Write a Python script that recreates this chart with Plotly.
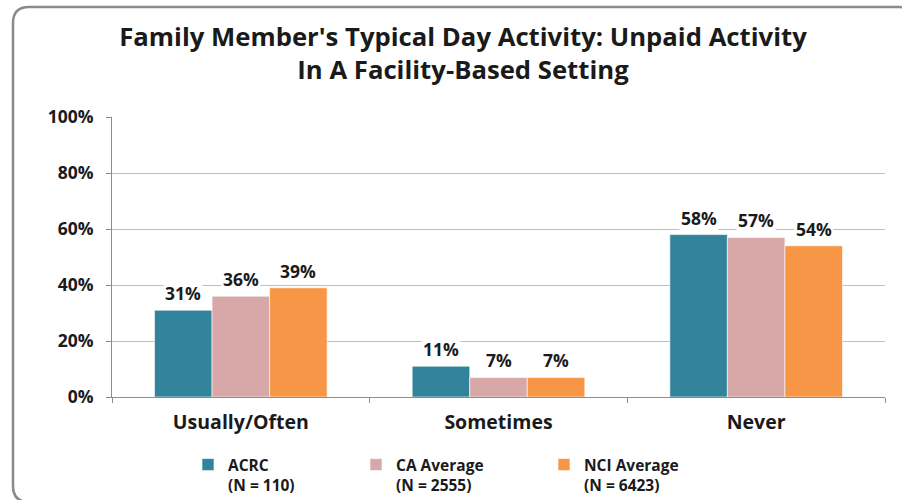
import plotly.graph_objects as go

categories = ["Usually/Often", "Sometimes", "Never"]
series_names = ["ACRC<br>(N = 110)", "CA Average<br>(N = 2555)", "NCI Average<br>(N = 6423)"]
acrc = [31, 11, 58]
ca_avg = [36, 7, 57]
nci_avg = [39, 7, 54]
colors = ["#31849B", "#D8A8A8", "#F79646"]
y_ticks = [0, 20, 40, 60, 80, 100]
y_tick_labels = ["0%", "20%", "40%", "60%", "80%", "100%"]

FONT = "Open Sans"
TXT = "#1a1a1a"
series = [acrc, ca_avg, nci_avg]
legend_ids = ["legend", "legend2", "legend3"]
legend_x_px = [188, 356, 544]

W, H = 902, 500
L, R, T, B = 112, 17, 117, 103
plot_w = W - L - R
plot_h = H - T - B

fig = go.Figure()
for name, vals, col, lid in zip(series_names, series, colors, legend_ids):
    fig.add_trace(go.Bar(
        x=categories, y=vals, name=name, legend=lid,
        marker=dict(color=col, line=dict(color="rgba(255,255,255,0.6)", width=1)),
        hoverinfo="skip",
    ))

# data labels with white background (occluding grid)
cat_w = plot_w / len(categories)
bargap = 0.33
bar_w = cat_w * (1 - bargap) / len(series)
for si, vals in enumerate(series):
    offset = (si - (len(series) - 1) / 2) * bar_w
    for ci, v in enumerate(vals):
        fig.add_annotation(
            x=categories[ci], y=v, text=f"{v}%", showarrow=False,
            xshift=offset, yshift=17, yanchor="middle",
            font=dict(family=FONT, size=17.5, color=TXT, weight="bold"),
            bgcolor="white", borderpad=1,
        )

# rounded border
px = lambda x: (x - L) / plot_w
py = lambda y: (H - B - y) / plot_h
x0, x1, y0, y1 = 13, 915, 7, 502
rx, ry = 16, 16
path = (
    f"M {px(x0)},{py(y1 - ry)} "
    f"L {px(x0)},{py(y0 + ry)} "
    f"Q {px(x0)},{py(y0)} {px(x0 + rx)},{py(y0)} "
    f"L {px(x1 - rx)},{py(y0)} "
    f"Q {px(x1)},{py(y0)} {px(x1)},{py(y0 + ry)} "
    f"L {px(x1)},{py(y1 - ry)} "
    f"Q {px(x1)},{py(y1)} {px(x1 - rx)},{py(y1)} "
    f"L {px(x0 + rx)},{py(y1)} "
    f"Q {px(x0)},{py(y1)} {px(x0)},{py(y1 - ry)} Z"
)
fig.add_shape(type="path", path=path, xref="paper", yref="paper",
              line=dict(color="#8a8a8a", width=2.5), layer="above")

legend_common = dict(
    orientation="h", xref="container", yref="container",
    xanchor="left", yanchor="top", y=1 - 448 / H,
    font=dict(family=FONT, size=15.5, color=TXT, weight="bold"),
    valign="top", bgcolor="rgba(0,0,0,0)", itemwidth=30,
)
legends = {}
for lid, lx in zip(legend_ids, legend_x_px):
    legends[lid] = dict(legend_common, x=lx / W)

fig.update_layout(
    width=W, height=H,
    margin=dict(l=L, r=R, t=T, b=B, autoexpand=False),
    paper_bgcolor="white", plot_bgcolor="white",
    barmode="group", bargap=bargap, bargroupgap=0,
    title=dict(
        text="Family Member's Typical Day Activity: Unpaid Activity<br>In A Facility-Based Setting",
        xref="container", yref="container",
        x=463 / W, xanchor="center", y=1 - 46 / H, yanchor="top",
        font=dict(family=FONT, size=25.7, color=TXT, weight="bold"),
    ),
    font=dict(family=FONT, color=TXT),
    showlegend=True,
    yaxis=dict(
        range=[0, 100], tickvals=y_ticks, ticktext=y_tick_labels,
        showgrid=True, gridcolor="#bfbfbf", gridwidth=1,
        showline=True, linecolor="#8c8c8c", linewidth=1,
        ticks="outside", ticklen=5, tickcolor="#8c8c8c",
        ticklabelstandoff=9,
        tickfont=dict(family=FONT, size=17.5, color=TXT, weight="bold"),
        zeroline=False, fixedrange=True,
    ),
    xaxis=dict(
        showline=True, linecolor="#8c8c8c", linewidth=1,
        ticks="outside", ticklen=5, tickcolor="#8c8c8c", tickson="boundaries",
        ticklabelstandoff=8,
        tickfont=dict(family=FONT, size=19.5, color=TXT, weight="bold"),
        fixedrange=True,
    ),
    **legends,
)

fig.write_html(
    "out.html",
    config={"displayModeBar": False},
    post_script="document.body.style.margin='0';document.body.style.overflow='hidden';",
)
